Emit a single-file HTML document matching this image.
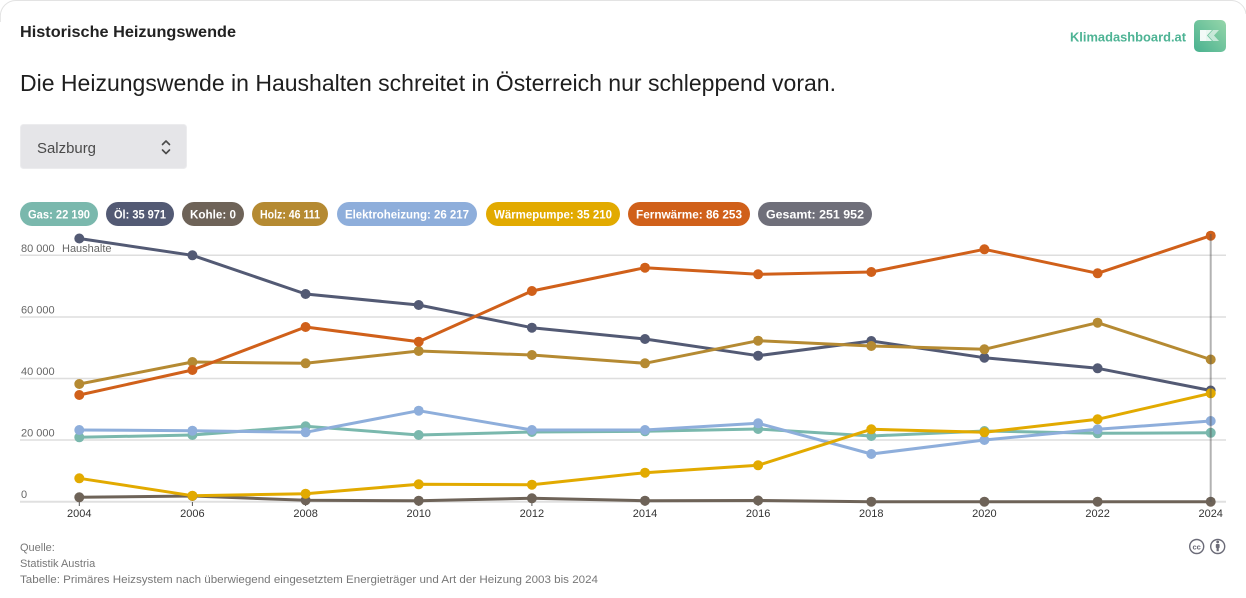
<!DOCTYPE html>
<html>
<head>
<meta charset="utf-8">
<style>
  html, body { margin:0; padding:0; background:#ffffff; width:1246px; height:598px; overflow:hidden; }
  body { position:relative; font-family:"Liberation Sans", sans-serif; }
  svg { position:absolute; left:0; top:0; display:block; }
</style>
</head>
<body>
<svg width="1246" height="598" viewBox="0 0 1246 598" xmlns="http://www.w3.org/2000/svg" font-family="Liberation Sans, sans-serif">
  <defs>
    <linearGradient id="lg" x1="0" y1="1" x2="1" y2="0">
      <stop offset="0" stop-color="#48b18f"/>
      <stop offset="1" stop-color="#96d6aa"/>
    </linearGradient>
  </defs>

  <!-- Card outline (top corners only) -->
  <path d="M0.3,22 L0.3,16 A15.7,15.7 0 0 1 16,0.5 L1232,0.5 A15,15 0 0 1 1246,14" fill="none" stroke="#e3e3e3" stroke-width="1"/>

  <!-- Header -->
  <text x="20" y="37" font-size="16" font-weight="bold" fill="#222" textLength="216" lengthAdjust="spacingAndGlyphs">Historische Heizungswende</text>
  <text x="20" y="91" font-size="23" fill="#1e1e1e" textLength="816" lengthAdjust="spacingAndGlyphs">Die Heizungswende in Haushalten schreitet in Österreich nur schleppend voran.</text>

  <!-- Logo -->
  <text x="1070" y="41.5" font-size="13" font-weight="bold" fill="#4db394" textLength="116" lengthAdjust="spacingAndGlyphs">Klimadashboard.at</text>
  <rect x="1194" y="20" width="32" height="32" rx="5" fill="url(#lg)"/>
  <rect x="1200" y="30" width="6" height="11" fill="#ffffff" opacity="0.92"/>
  <polygon points="1206,30 1212,30 1207,35.5 1212,41 1206,41" fill="#ffffff" opacity="0.85"/>
  <polygon points="1213,30 1219,30 1214,35.5 1219,41 1213,41 1208,35.5" fill="#ffffff" opacity="0.6"/>

  <!-- Dropdown -->
  <rect x="20.5" y="124.5" width="166" height="44" rx="3" fill="#e5e5e8" stroke="#ececee"/>
  <text x="37" y="153" font-size="15" fill="#4a4a4a" textLength="59" lengthAdjust="spacingAndGlyphs">Salzburg</text>
  <polyline points="162.5,144.5 166,141 169.5,144.5" fill="none" stroke="#4a4a4a" stroke-width="1.6" stroke-linecap="round" stroke-linejoin="round"/>
  <polyline points="162.5,150 166,153.5 169.5,150" fill="none" stroke="#4a4a4a" stroke-width="1.6" stroke-linecap="round" stroke-linejoin="round"/>

  <!-- Legend pills -->
  <g font-size="12" font-weight="bold" fill="#fff">
    <rect x="20" y="202" width="78" height="24" rx="12" fill="#7ab8ad"/>
    <text x="28" y="218.5" fill="#fff" textLength="62" lengthAdjust="spacingAndGlyphs">Gas: 22 190</text>
    <rect x="106" y="202" width="68" height="24" rx="12" fill="#535a74"/>
    <text x="114" y="218.5" fill="#fff" textLength="52" lengthAdjust="spacingAndGlyphs">Öl: 35 971</text>
    <rect x="182" y="202" width="62" height="24" rx="12" fill="#6e6358"/>
    <text x="190" y="218.5" fill="#fff" textLength="46" lengthAdjust="spacingAndGlyphs">Kohle: 0</text>
    <rect x="252" y="202" width="76" height="24" rx="12" fill="#b58a32"/>
    <text x="260" y="218.5" font-size="11.5" fill="#fff" textLength="60" lengthAdjust="spacingAndGlyphs">Holz: 46 111</text>
    <rect x="337" y="202" width="140" height="24" rx="12" fill="#8eaedb"/>
    <text x="345" y="218.5" fill="#fff" textLength="124" lengthAdjust="spacingAndGlyphs">Elektroheizung: 26 217</text>
    <rect x="486" y="202" width="134" height="24" rx="12" fill="#e2aa00"/>
    <text x="494" y="218.5" fill="#fff" textLength="118" lengthAdjust="spacingAndGlyphs">Wärmepumpe: 35 210</text>
    <rect x="628" y="202" width="122" height="24" rx="12" fill="#d0601a"/>
    <text x="636" y="218.5" fill="#fff" textLength="106" lengthAdjust="spacingAndGlyphs">Fernwärme: 86 253</text>
    <rect x="758" y="202" width="114" height="24" rx="12" fill="#6f6f7a"/>
    <text x="766" y="218.5" fill="#fff" textLength="98" lengthAdjust="spacingAndGlyphs">Gesamt: 251 952</text>
  </g>

  <!-- Gridlines -->
  <g stroke="#dedede" stroke-width="1.5">
    <line x1="20" y1="255.3" x2="1226" y2="255.3"/>
    <line x1="20" y1="317" x2="1226" y2="317"/>
    <line x1="20" y1="378.5" x2="1226" y2="378.5"/>
    <line x1="20" y1="440" x2="1226" y2="440"/>
    <line x1="20" y1="501.7" x2="1226" y2="501.7" stroke="#e0e0e0" stroke-width="2"/>
  </g>

  <!-- Y labels -->
  <g font-size="11" fill="#666">
    <text x="21" y="252">80 000</text>
    <text x="62" y="252">Haushalte</text>
    <text x="21" y="313.5">60 000</text>
    <text x="21" y="375">40 000</text>
    <text x="21" y="436.5">20 000</text>
    <text x="21" y="498">0</text>
  </g>

  <!-- X ticks -->
  <g stroke="#555" stroke-width="1">
    <line x1="79.3" y1="502" x2="79.3" y2="506"/>
    <line x1="192.4" y1="502" x2="192.4" y2="506"/>
    <line x1="305.6" y1="502" x2="305.6" y2="506"/>
    <line x1="418.7" y1="502" x2="418.7" y2="506"/>
    <line x1="531.9" y1="502" x2="531.9" y2="506"/>
    <line x1="645" y1="502" x2="645" y2="506"/>
    <line x1="758.1" y1="502" x2="758.1" y2="506"/>
    <line x1="871.3" y1="502" x2="871.3" y2="506"/>
    <line x1="984.4" y1="502" x2="984.4" y2="506"/>
    <line x1="1097.6" y1="502" x2="1097.6" y2="506"/>
    <line x1="1210.7" y1="502" x2="1210.7" y2="506"/>
  </g>

  <!-- X labels -->
  <g font-size="11" fill="#333" text-anchor="middle">
    <text x="79.3" y="517">2004</text>
    <text x="192.4" y="517">2006</text>
    <text x="305.6" y="517">2008</text>
    <text x="418.7" y="517">2010</text>
    <text x="531.9" y="517">2012</text>
    <text x="645" y="517">2014</text>
    <text x="758.1" y="517">2016</text>
    <text x="871.3" y="517">2018</text>
    <text x="984.4" y="517">2020</text>
    <text x="1097.6" y="517">2022</text>
    <text x="1210.7" y="517">2024</text>
  </g>

  <!-- Series -->
  <g fill="none" stroke-width="3" stroke-linejoin="round" stroke-linecap="round">
    <polyline stroke="#7ab8ad" points="79.3,437.3 192.4,435 305.6,426.3 418.7,435 531.9,432 645,431.3 758.1,429 871.3,436 984.4,431 1097.6,433.3 1210.7,432.8"/>
    <polyline stroke="#535a74" points="79.3,238.5 192.4,255.3 305.6,294 418.7,305 531.9,327.7 645,339 758.1,355.7 871.3,341 984.4,357.7 1097.6,368.3 1210.7,390.5"/>
    <polyline stroke="#6e6358" points="79.3,497.3 192.4,496 305.6,500.3 418.7,500.7 531.9,498.3 645,500.7 758.1,500.5 871.3,501.7 984.4,501.7 1097.6,501.7 1210.7,501.7"/>
    <polyline stroke="#b58a32" points="79.3,384 192.4,362 305.6,363.3 418.7,351 531.9,355 645,363.3 758.1,340.7 871.3,346 984.4,349.3 1097.6,322.7 1210.7,359.5"/>
    <polyline stroke="#8eaedb" points="79.3,430 192.4,430.7 305.6,432.3 418.7,410.7 531.9,430 645,430 758.1,423.3 871.3,454 984.4,440 1097.6,429.3 1210.7,421"/>
    <polyline stroke="#e2aa00" points="79.3,478.3 192.4,495.7 305.6,493.7 418.7,484.3 531.9,484.7 645,472.7 758.1,465.3 871.3,429.3 984.4,432.3 1097.6,419.3 1210.7,393.3"/>
    <polyline stroke="#d0601a" points="79.3,395 192.4,370 305.6,327 418.7,341.7 531.9,291 645,267.7 758.1,274.3 871.3,272 984.4,249.3 1097.6,273.3 1210.7,235.7"/>
  </g>

  <!-- Markers -->
  <g fill="#7ab8ad">
    <circle cx="79.3" cy="437.3" r="5"/><circle cx="192.4" cy="435" r="5"/><circle cx="305.6" cy="426.3" r="5"/><circle cx="418.7" cy="435" r="5"/><circle cx="531.9" cy="432" r="5"/><circle cx="645" cy="431.3" r="5"/><circle cx="758.1" cy="429" r="5"/><circle cx="871.3" cy="436" r="5"/><circle cx="984.4" cy="431" r="5"/><circle cx="1097.6" cy="433.3" r="5"/><circle cx="1210.7" cy="432.8" r="5"/>
  </g>
  <g fill="#535a74">
    <circle cx="79.3" cy="238.5" r="5"/><circle cx="192.4" cy="255.3" r="5"/><circle cx="305.6" cy="294" r="5"/><circle cx="418.7" cy="305" r="5"/><circle cx="531.9" cy="327.7" r="5"/><circle cx="645" cy="339" r="5"/><circle cx="758.1" cy="355.7" r="5"/><circle cx="871.3" cy="341" r="5"/><circle cx="984.4" cy="357.7" r="5"/><circle cx="1097.6" cy="368.3" r="5"/><circle cx="1210.7" cy="390.5" r="5"/>
  </g>
  <g fill="#6e6358">
    <circle cx="79.3" cy="497.3" r="5"/><circle cx="192.4" cy="496" r="5"/><circle cx="305.6" cy="500.3" r="5"/><circle cx="418.7" cy="500.7" r="5"/><circle cx="531.9" cy="498.3" r="5"/><circle cx="645" cy="500.7" r="5"/><circle cx="758.1" cy="500.5" r="5"/><circle cx="871.3" cy="501.7" r="5"/><circle cx="984.4" cy="501.7" r="5"/><circle cx="1097.6" cy="501.7" r="5"/><circle cx="1210.7" cy="501.7" r="5"/>
  </g>
  <g fill="#b58a32">
    <circle cx="79.3" cy="384" r="5"/><circle cx="192.4" cy="362" r="5"/><circle cx="305.6" cy="363.3" r="5"/><circle cx="418.7" cy="351" r="5"/><circle cx="531.9" cy="355" r="5"/><circle cx="645" cy="363.3" r="5"/><circle cx="758.1" cy="340.7" r="5"/><circle cx="871.3" cy="346" r="5"/><circle cx="984.4" cy="349.3" r="5"/><circle cx="1097.6" cy="322.7" r="5"/><circle cx="1210.7" cy="359.5" r="5"/>
  </g>
  <g fill="#8eaedb">
    <circle cx="79.3" cy="430" r="5"/><circle cx="192.4" cy="430.7" r="5"/><circle cx="305.6" cy="432.3" r="5"/><circle cx="418.7" cy="410.7" r="5"/><circle cx="531.9" cy="430" r="5"/><circle cx="645" cy="430" r="5"/><circle cx="758.1" cy="423.3" r="5"/><circle cx="871.3" cy="454" r="5"/><circle cx="984.4" cy="440" r="5"/><circle cx="1097.6" cy="429.3" r="5"/><circle cx="1210.7" cy="421" r="5"/>
  </g>
  <g fill="#e2aa00">
    <circle cx="79.3" cy="478.3" r="5"/><circle cx="192.4" cy="495.7" r="5"/><circle cx="305.6" cy="493.7" r="5"/><circle cx="418.7" cy="484.3" r="5"/><circle cx="531.9" cy="484.7" r="5"/><circle cx="645" cy="472.7" r="5"/><circle cx="758.1" cy="465.3" r="5"/><circle cx="871.3" cy="429.3" r="5"/><circle cx="984.4" cy="432.3" r="5"/><circle cx="1097.6" cy="419.3" r="5"/><circle cx="1210.7" cy="393.3" r="5"/>
  </g>
  <g fill="#d0601a">
    <circle cx="79.3" cy="395" r="5"/><circle cx="192.4" cy="370" r="5"/><circle cx="305.6" cy="327" r="5"/><circle cx="418.7" cy="341.7" r="5"/><circle cx="531.9" cy="291" r="5"/><circle cx="645" cy="267.7" r="5"/><circle cx="758.1" cy="274.3" r="5"/><circle cx="871.3" cy="272" r="5"/><circle cx="984.4" cy="249.3" r="5"/><circle cx="1097.6" cy="273.3" r="5"/><circle cx="1210.7" cy="235.7" r="5"/>
  </g>

  <!-- Hover line at 2024 -->
  <line x1="1210.7" y1="234" x2="1210.7" y2="502" stroke="#555" stroke-opacity="0.45" stroke-width="2"/>

  <!-- Footer -->
  <g font-size="11" fill="#777">
    <text x="20" y="551">Quelle:</text>
    <text x="20" y="567">Statistik Austria</text>
    <text x="20" y="583" textLength="578" lengthAdjust="spacingAndGlyphs">Tabelle: Primäres Heizsystem nach überwiegend eingesetztem Energieträger und Art der Heizung 2003 bis 2024</text>
  </g>

  <!-- CC icons -->
  <circle cx="1196.7" cy="546.5" r="7" fill="none" stroke="#6b6b78" stroke-width="1.4"/>
  <text x="1196.7" y="549.3" font-size="7.5" font-weight="bold" fill="#6b6b78" text-anchor="middle">cc</text>
  <circle cx="1217.7" cy="546.5" r="7" fill="none" stroke="#6b6b78" stroke-width="1.4"/>
  <circle cx="1217.7" cy="542" r="1.4" fill="#6b6b78"/>
  <rect x="1215.8" y="544" width="3.8" height="4" rx="0.8" fill="#6b6b78"/>
  <rect x="1216.6" y="547" width="2.2" height="4.2" fill="#6b6b78"/>
</svg>
</body>
</html>
